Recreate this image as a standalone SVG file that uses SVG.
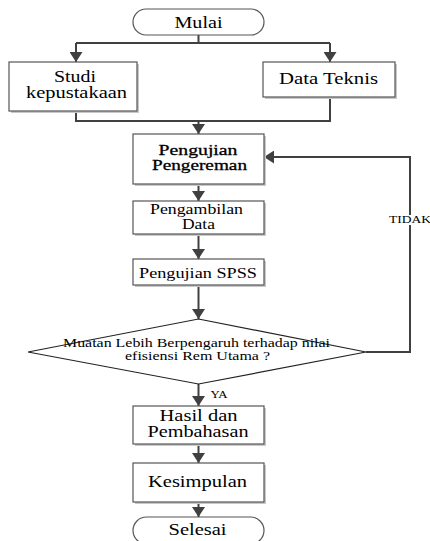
<svg xmlns="http://www.w3.org/2000/svg" width="430" height="541" viewBox="0 0 430 541" font-family="'Liberation Serif', 'DejaVu Serif', serif">
<defs>
<marker id="arr" viewBox="0 0 10 13" markerWidth="10" markerHeight="13" refX="10" refY="6.5" orient="auto" markerUnits="userSpaceOnUse">
<path d="M0,0 L10,6.5 L0,13 z" fill="#404040"/>
</marker>
<style>
.box{fill:#fff;stroke:#555;stroke-width:1.2}
.sh{fill:#c8c8c8}
text{font-family:'Liberation Serif','DejaVu Serif',serif}
.t{fill:#000;text-anchor:middle}
.c{fill:none;stroke:#404040;stroke-width:2}
.ca{fill:none;stroke:#404040;stroke-width:2;marker-end:url(#arr)}
</style>
</defs>
<rect width="430" height="541" fill="#fff"/>
<g id="connectors">
<path class="c" d="M198.5 35 V43 M76 43 H330"/>
<path class="ca" d="M76 43 V62"/>
<path class="ca" d="M330 43 V62"/>
<path class="c" d="M76 111 V121 H330 V97"/>
<path class="ca" d="M198.5 121 V134"/>
<path class="ca" d="M198.5 184 V201"/>
<path class="ca" d="M198.5 234 V259"/>
<path class="ca" d="M198.5 285 V319"/>
<path class="ca" d="M198.5 384 V406"/>
<path class="ca" d="M198.5 444 V463"/>
<path class="ca" d="M198.5 502 V517"/>
<path class="ca" d="M366 352 H410 V157 H264"/>
<rect x="388" y="215" width="42" height="10" fill="#fff"/>
<text class="t" x="410" y="223" font-size="10" textLength="42" lengthAdjust="spacingAndGlyphs">TIDAK</text>
<text class="t" x="219" y="398" font-size="9.5" textLength="17" lengthAdjust="spacingAndGlyphs">YA</text>
</g>
<g id="mulai">
<rect class="box" x="133" y="9" width="131" height="26" rx="13" ry="13"/>
<text class="t" x="198.5" y="28" font-size="16" textLength="48" lengthAdjust="spacingAndGlyphs">Mulai</text>
</g>
<g id="studi">
<rect class="sh" x="11" y="64" width="128" height="49"/>
<rect class="box" x="9" y="62" width="128" height="49"/>
<text class="t" x="75" y="82" font-size="16" textLength="42" lengthAdjust="spacingAndGlyphs">Studi</text>
<text class="t" x="76.5" y="98" font-size="16" textLength="101" lengthAdjust="spacingAndGlyphs">kepustakaan</text>
</g>
<g id="datateknis">
<rect class="sh" x="265" y="64" width="132" height="35"/>
<rect class="box" x="263" y="62" width="132" height="35"/>
<text class="t" x="328.5" y="84" font-size="16" textLength="99" lengthAdjust="spacingAndGlyphs">Data Teknis</text>
</g>
<g id="pengereman">
<rect class="sh" x="135" y="136" width="131" height="50"/>
<rect class="box" x="133" y="134" width="131" height="50"/>
<text class="t" x="198" y="155" font-size="15" stroke="#000" stroke-width="0.3" textLength="79" lengthAdjust="spacingAndGlyphs">Pengujian</text>
<text class="t" x="199.5" y="170" font-size="15" stroke="#000" stroke-width="0.3" textLength="95" lengthAdjust="spacingAndGlyphs">Pengereman</text>
</g>
<g id="pengambilan">
<rect class="sh" x="135" y="203" width="131" height="33"/>
<rect class="box" x="133" y="201" width="131" height="33"/>
<text class="t" x="196.5" y="214" font-size="15" textLength="93" lengthAdjust="spacingAndGlyphs">Pengambilan</text>
<text class="t" x="198.5" y="229" font-size="15" textLength="33" lengthAdjust="spacingAndGlyphs">Data</text>
</g>
<g id="spss">
<rect class="sh" x="135" y="261" width="131" height="26"/>
<rect class="box" x="133" y="259" width="131" height="26"/>
<text class="t" x="198" y="278" font-size="15" textLength="118" lengthAdjust="spacingAndGlyphs">Pengujian SPSS</text>
</g>
<g id="keputusan">
<polygon points="198.5,319 366,352 198.5,384 28,352" fill="#fff" stroke="#222" stroke-width="1.2"/>
<text class="t" x="196.5" y="347" font-size="12" textLength="267" lengthAdjust="spacingAndGlyphs">Muatan Lebih Berpengaruh terhadap nilai</text>
<text class="t" x="197.5" y="360" font-size="12" textLength="145" lengthAdjust="spacingAndGlyphs">efisiensi Rem Utama ?</text>
</g>
<g id="hasil">
<rect class="sh" x="135" y="408" width="131" height="38"/>
<rect class="box" x="133" y="406" width="131" height="38"/>
<text class="t" x="198.5" y="421" font-size="16" textLength="78" lengthAdjust="spacingAndGlyphs">Hasil dan</text>
<text class="t" x="198" y="437" font-size="16" textLength="101" lengthAdjust="spacingAndGlyphs">Pembahasan</text>
</g>
<g id="kesimpulan">
<rect class="sh" x="135" y="465" width="131" height="39"/>
<rect class="box" x="133" y="463" width="131" height="39"/>
<text class="t" x="197.5" y="487" font-size="16" textLength="99" lengthAdjust="spacingAndGlyphs">Kesimpulan</text>
</g>
<g id="selesai">
<rect class="box" x="133" y="517" width="131" height="27" rx="13.5" ry="13.5"/>
<text class="t" x="197.5" y="535" font-size="16" textLength="58" lengthAdjust="spacingAndGlyphs">Selesai</text>
</g>
</svg>
